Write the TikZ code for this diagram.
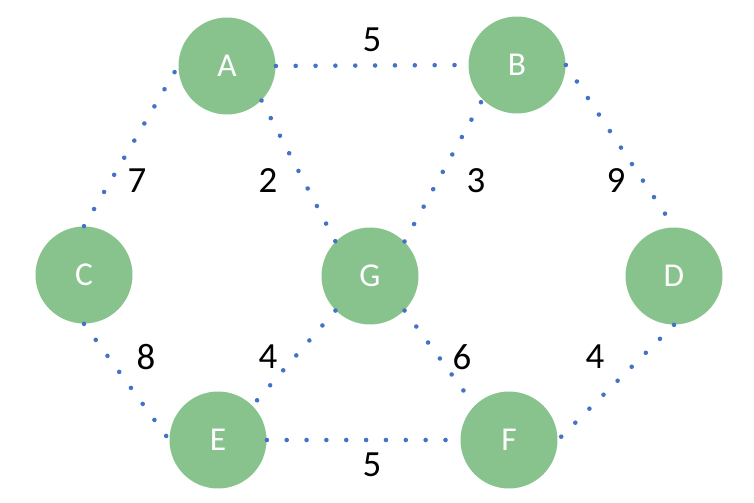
\documentclass[tikz,border=0pt]{standalone}
\usepackage{fontspec}
\usetikzlibrary{decorations.markings}
\setmainfont{Carlito}
\definecolor{nodegreen}{HTML}{88C38E}
\definecolor{dotblue}{HTML}{4472C4}
\tikzset{
  vertex/.style={circle, fill=nodegreen, minimum size=1.94cm, inner sep=0pt, text=white, font=\fontsize{19}{19}\selectfont},
  link/.style={postaction={decorate, decoration={markings,
      mark=between positions 0 and 1 step 11.3pt with {\fill[dotblue] (0,0) circle (1.3pt);}}}},
  weight/.style={font=\fontsize{21}{21}\selectfont}
}
\begin{document}
\begin{tikzpicture}[x=0.02cm, y=-0.02cm]
			\useasboundingbox (0,0) rectangle (754,503);
			\node[vertex] (A) at (227,66) {A};
			\node[vertex] (B) at (517,65) {B};
			\node[vertex] (C) at (84,275) {C};
			\node[vertex] (G) at (370,276) {G};
			\node[vertex] (D) at (674,276) {D};
			\node[vertex] (E) at (218,440) {E};
			\node[vertex] (F) at (509,440) {F};
			\path[link] (A.east) -- (B.west);
			\path[link] (C.north) -- (A.west);
			\path[link] (A.south east) -- (G.north west);
			\path[link] (G.north east) -- (B.south west);
			\path[link] (B.east) -- (D.north);
			\path[link] (C.south) -- (E.west);
			\path[link] (G.south west) -- (E.north east);
			\path[link] (G.south east) -- (F.north west);
			\path[link] (D.south) -- (F.east);
			\path[link] (E.east) -- (F.west);
			\node[weight] (wab) at (372,40) {5};
			\node[weight] (wac) at (137,181) {7};
			\node[weight] (wag) at (268,181) {2};
			\node[weight] (wbg) at (476,181) {3};
			\node[weight] (wbd) at (616,181) {9};
			\node[weight] (wce) at (146,357) {8};
			\node[weight] (wge) at (268,357) {4};
			\node[weight] (wgf) at (462,357) {6};
			\node[weight] (wdf) at (595,357) {4};
			\node[weight] (wef) at (372,465) {5};
		\end{tikzpicture}
\end{document}
